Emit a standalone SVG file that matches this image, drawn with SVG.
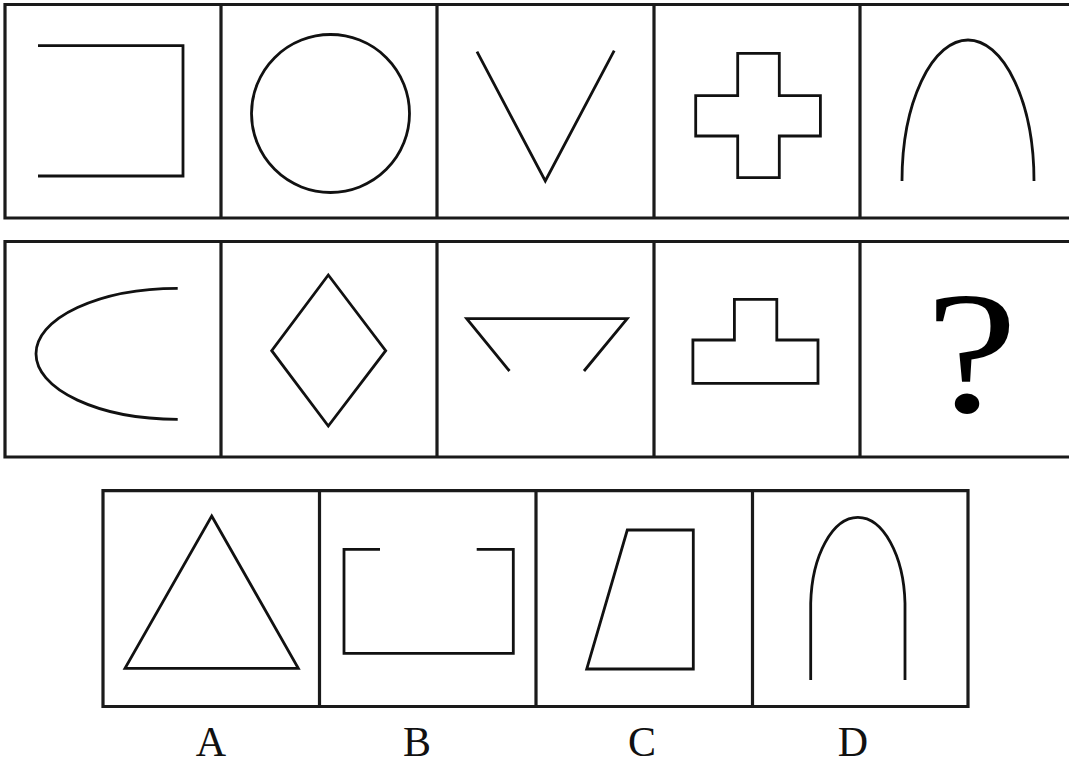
<svg xmlns="http://www.w3.org/2000/svg" width="1069" height="764" viewBox="0 0 1069 764">
<style>
.frame{fill:none;stroke:#1a1a1a;stroke-width:3.2}
.shape{fill:none;stroke:#111;stroke-width:2.8;stroke-linejoin:miter}
.lbl{font-family:"Liberation Serif","Times New Roman",serif;font-size:42px;fill:#111;text-anchor:middle}
</style>
<rect width="1069" height="764" fill="#fff"/>
<g id="frames">
  <path class="frame" d="M1069,4.5 H5 V218 H1069 M221,4.5 V218 M437,4.5 V218 M654,4.5 V218 M860,4.5 V218"/>
  <path class="frame" d="M1069,241.5 H5 V457 H1069 M221,241.5 V457 M437,241.5 V457 M654,241.5 V457 M860,241.5 V457"/>
  <path class="frame" d="M103,490.7 H968 V706.5 H103 Z M319.5,490.7 V706.5 M536,490.7 V706.5 M752.5,490.7 V706.5"/>
</g>
<g id="r1c1"><path class="shape" d="M38,45.7 H183 V176 H38"/></g>
<g id="r1c2"><circle class="shape" cx="330.5" cy="113.5" r="79"/></g>
<g id="r1c3"><path class="shape" d="M477,51.7 L545.3,181 L614.2,50.7"/></g>
<g id="r1c4"><path class="shape" d="M737.7,53.3 H779.3 V95.7 H820.4 V136 H779.3 V177.7 H737.7 V136 H695.7 V95.7 H737.7 Z"/></g>
<g id="r1c5"><path class="shape" d="M902,181 A66,141 0 0 1 1034,181"/></g>
<g id="r2c1"><path class="shape" d="M177.7,288.3 A141.7,65.5 0 0 0 177.7,419.3"/></g>
<g id="r2c2"><path class="shape" d="M328.3,275 L385.7,350.7 L328.3,426 L271.7,350.7 Z"/></g>
<g id="r2c3"><path class="shape" d="M509.5,371 L466.7,318.7 H627.2 L584,371"/></g>
<g id="r2c4"><path class="shape" d="M734.4,299.3 H776.8 V340 H818 V383.3 H692.9 V340 H734.4 Z"/></g>
<g id="r2c5"><text transform="translate(971.5,411.5) scale(1.2,1)" style="font-family:'Liberation Serif','Times New Roman',serif;font-size:173px;fill:#000;text-anchor:middle">?</text></g>
<g id="optA"><path class="shape" d="M211.7,516 L298.3,668.3 H125 Z"/><text class="lbl" x="211" y="756">A</text></g>
<g id="optB"><path class="shape" d="M380,549.3 H344 V653.3 H513.3 V549.3 H476.7"/><text class="lbl" x="417" y="756">B</text></g>
<g id="optC"><path class="shape" d="M627.3,530 H693.3 V669 H586.7 Z"/><text class="lbl" x="642" y="756">C</text></g>
<g id="optD"><path class="shape" d="M810.7,680 V603.3 A47.2,90 0 0 1 905,603.3 V680"/><text class="lbl" x="853" y="756">D</text></g>
</svg>
